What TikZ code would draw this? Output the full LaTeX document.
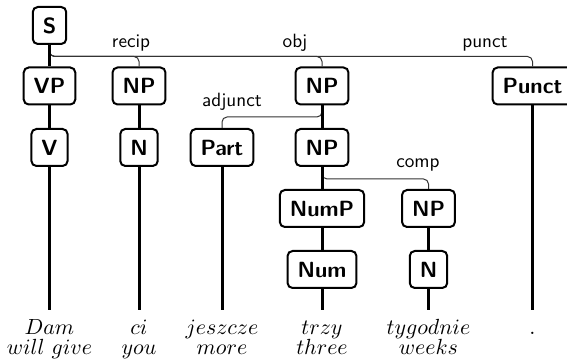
\documentclass[tikz,border=0pt]{standalone}
\begin{document}
\begin{tikzpicture}[x=0.5pt,y=-0.5pt,
  cat/.style={draw, line width=1pt, rounded corners=2.5pt, minimum height=18.5pt,
    inner xsep=5pt, inner ysep=2pt, font=\sffamily\bfseries\fontsize{11}{13}\selectfont},
  head/.style={line width=1.5pt},
  dep/.style={line width=0.5pt, draw=black!80, rounded corners=2.5pt},
  lab/.style={anchor=base, inner sep=0pt, font=\sffamily\fontsize{9.6}{11}\selectfont},
  word/.style={anchor=base, inner sep=0pt, text height=7pt, text depth=2pt,
    font=\fontsize{10.5}{12}\selectfont},
  gloss/.style={anchor=base, inner sep=0pt, font=\fontsize{10.5}{12}\selectfont}]
\useasboundingbox (0,0) rectangle (567,362);

% category nodes
\node[cat] (S)     at (49.5,25.5)  {S};
\node[cat] (VP)    at (49.5,86)    {VP};
\node[cat] (NPa)   at (139,86)     {NP};
\node[cat] (NPb)   at (322,86)     {NP};
\node[cat] (Punct) at (532.5,86)   {Punct};
\node[cat] (V)     at (49.5,147.5) {V};
\node[cat] (Na)    at (139,147.5)  {N};
\node[cat] (Part)  at (222,147.5)  {Part};
\node[cat] (NPc)   at (322,147.5)  {NP};
\node[cat] (NumP)  at (322,208.5)  {NumP};
\node[cat] (NPd)   at (428.5,208.5){NP};
\node[cat] (Num)   at (322,269.5)  {Num};
\node[cat] (Nb)    at (428.5,269.5){N};

% words and glosses
\node[word]  (w1) at (49.5,335)  {$Dam$};
\node[word]  (w2) at (139,335)   {$ci$};
\node[word]  (w3) at (222,335)   {$jeszcze$};
\node[word]  (w4) at (322,335)   {$trzy$};
\node[word]  (w5) at (428.5,335) {$tygodnie$};
\node[word]  (w6) at (532.5,335) {$.$};
\node[gloss] (g1) at (49.5,355)  {$will\ give$};
\node[gloss] (g2) at (139,355)   {$you$};
\node[gloss] (g3) at (222,355)   {$more$};
\node[gloss] (g4) at (322,355)   {$three$};
\node[gloss] (g5) at (428.5,355) {$weeks$};

% dependency labels
\node[lab] (lrecip) at (131,48)  {recip};
\node[lab] (lobj)   at (295,48)  {obj};
\node[lab] (lpunct) at (485,48)  {punct};
\node[lab] (ladj)   at (232,107) {adjunct};
\node[lab] (lcomp)  at (418,168) {comp};

% dependency arcs
\draw[dep] (S.south) |- ([yshift=5pt]NPa.north) -- (NPa.north);
\draw[dep] (S.south) |- ([yshift=5pt]NPb.north) -- (NPb.north);
\draw[dep] (S.south) |- ([yshift=5pt]Punct.north) -- (Punct.north);
\draw[dep] (NPb.south) |- ([yshift=5.5pt]Part.north) -- (Part.north);
\draw[dep] (NPc.south) |- ([yshift=5pt]NPd.north) -- (NPd.north);

% head chains
\draw[head] (S) -- (VP);
\draw[head] (VP) -- (V);
\draw[head, shorten >=5.5pt] (V) -- (w1.north);
\draw[head] (NPa) -- (Na);
\draw[head, shorten >=5.5pt] (Na) -- (w2.north);
\draw[head, shorten >=5.5pt] (Part) -- (w3.north);
\draw[head] (NPb) -- (NPc);
\draw[head] (NPc) -- (NumP);
\draw[head] (NumP) -- (Num);
\draw[head, shorten >=5.5pt] (Num) -- (w4.north);
\draw[head] (NPd) -- (Nb);
\draw[head, shorten >=5.5pt] (Nb) -- (w5.north);
\draw[head, shorten >=5.5pt] (Punct) -- (w6.north);
\end{tikzpicture}
\end{document}
